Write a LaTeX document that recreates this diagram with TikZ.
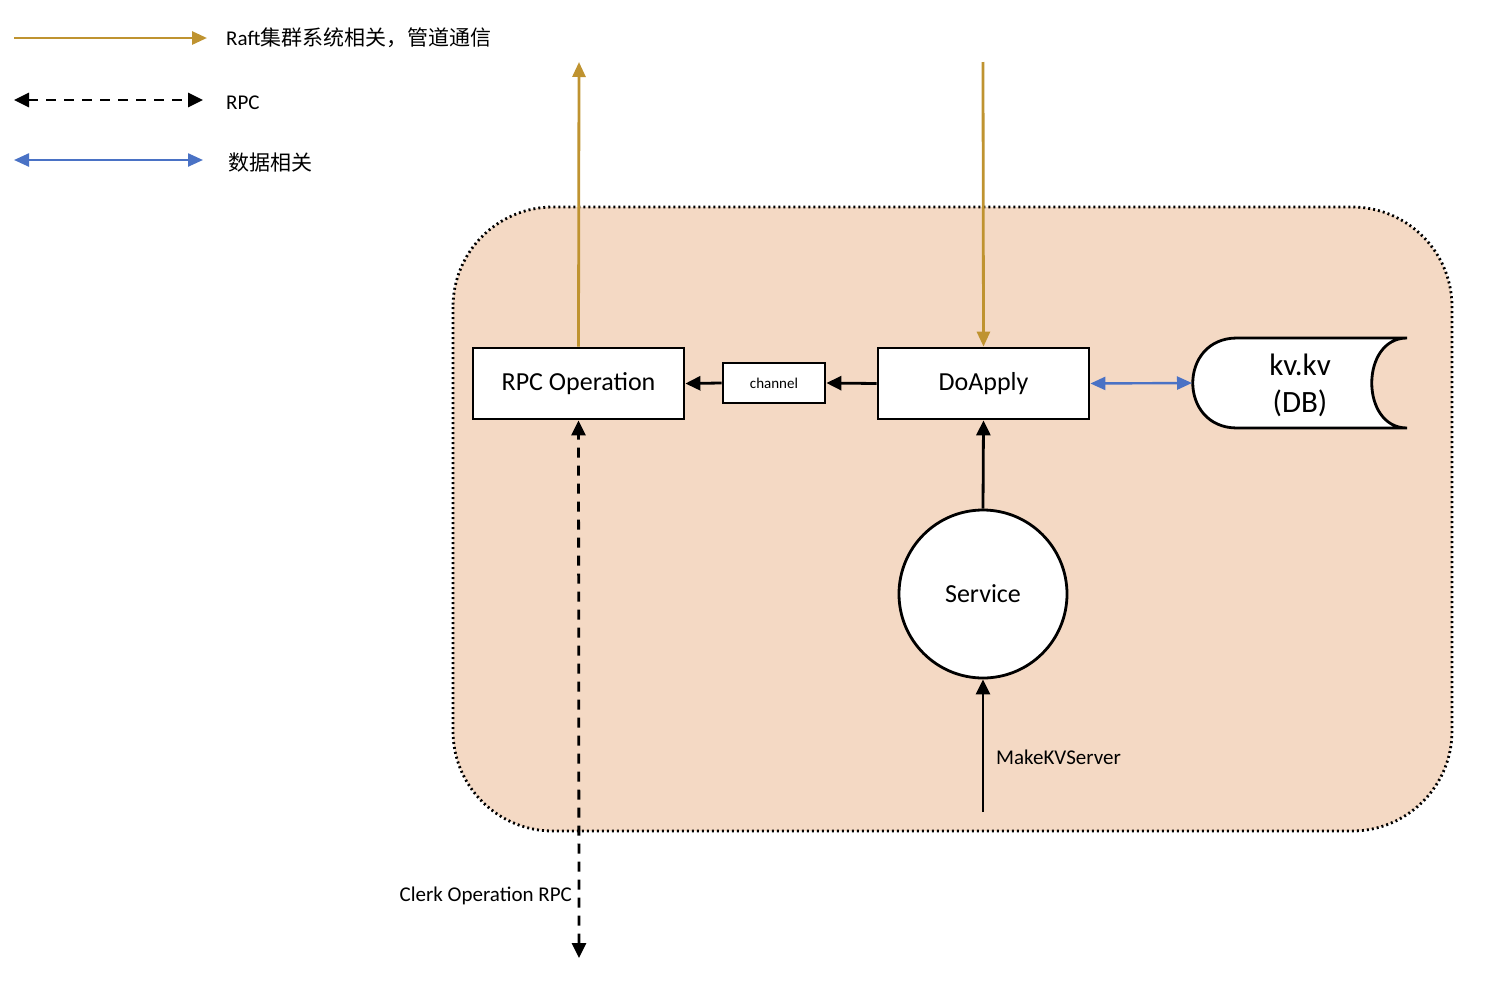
\documentclass[tikz,border=0pt]{standalone}
\usepackage{fontspec}
\setmainfont{Carlito}
\newfontfamily\cjk{Noto Sans CJK SC}
\usetikzlibrary{arrows.meta}
\definecolor{gold}{HTML}{BF9330}
\definecolor{dblue}{HTML}{4A72C5}
\definecolor{peach}{HTML}{F4D9C4}
\begin{document}
\begin{tikzpicture}[x=1pt,y=-1pt,
  box/.style={draw, fill=white, line width=2.8pt, minimum width=211pt, minimum height=71pt,
    font=\fontsize{26}{30}\selectfont},
  goldarrow/.style={draw=gold, line width=2.8pt, -{Triangle[length=15pt,width=13pt]}, gold},
  blackarrow/.style={draw=black, line width=2.8pt, -{Triangle[length=15pt,width=14pt]}},
  rpcarrow/.style={draw=black, line width=2.8pt, dash pattern=on 10pt off 8pt,
    {Triangle[length=15pt,width=14pt]}-{Triangle[length=15pt,width=14pt]}},
  bluearrow/.style={draw=dblue, line width=2.4pt, dblue,
    {Triangle[length=15pt,width=13pt]}-{Triangle[length=15pt,width=13pt]}},
  lbl/.style={font=\fontsize{21}{25}\selectfont, inner sep=0pt},
]
\useasboundingbox (0,0) rectangle (1500,988);

% container
\draw[fill=peach, line width=2.8pt, dash pattern=on 2pt off 3pt, rounded corners=100pt]
  (453,207) rectangle (1452,831);

% legend
\coordinate (l1a) at (14,38); \coordinate (l1b) at (207,38);
\coordinate (l2a) at (14,100); \coordinate (l2b) at (203,100);
\coordinate (l3a) at (14,160); \coordinate (l3b) at (203,160);
\draw[goldarrow] (l1a) -- (l1b);
\draw[rpcarrow] (l2a) -- (l2b);
\draw[bluearrow] (l3a) -- (l3b);
\node[lbl, anchor=west] (leg1) at (226,38) {Raft{\cjk 集群系统相关，管道通信}};
\node[lbl, anchor=west] (leg2) at (226,103) {RPC};
\node[lbl, anchor=west] (leg3) at (228,163) {\cjk 数据相关};

% nodes
\node[box] (rpc) at (578.5,383.5) {RPC Operation};
\node[box] (apply) at (983.5,383.5) {DoApply};
\node[draw, fill=white, line width=2.8pt, minimum width=102pt, minimum height=40pt,
  font=\fontsize{15}{17}\selectfont] (chan) at (774,383) {channel};
\node[circle, draw, fill=white, line width=2.8pt, minimum size=168pt,
  font=\fontsize{26}{30}\selectfont] (svc) at (983,594) {Service};

% kv store shape
\draw[fill=white, line width=2.8pt]
  (1407,338) -- (1237,338) .. controls (1178,338) and (1178,428) .. (1237,428)
  -- (1407,428) .. controls (1360,428) and (1360,338) .. (1407,338);
\node[align=center, font=\fontsize{31}{37}\selectfont] (kv) at (1300,385) {kv.kv\\(DB)};
\coordinate (kvleft) at (1192,383);

% coordinates
\coordinate (raftTop) at (579,62);
\coordinate (applyTop) at (983,62);
\coordinate (clerkEnd) at (579,958);
\coordinate (mkStart) at (983,812);

% connectors
\draw[goldarrow] (rpc.north) -- (raftTop);
\draw[goldarrow] (applyTop) -- (apply.north);
\draw[blackarrow] (apply.west) -- (chan.east);
\draw[blackarrow] (chan.west) -- (rpc.east);
\draw[blackarrow] (svc.north) -- (apply.south);
\draw[blackarrow] (mkStart) -- (svc.south);
\draw[bluearrow] (apply.east) -- (kvleft);
\draw[rpcarrow] (clerkEnd) -- (rpc.south);

% labels
\node[lbl, anchor=east] (clerk) at (572,896) {Clerk Operation RPC};
\node[lbl, anchor=west] (mk) at (996,757) {MakeKVServer};
\end{tikzpicture}
\end{document}
